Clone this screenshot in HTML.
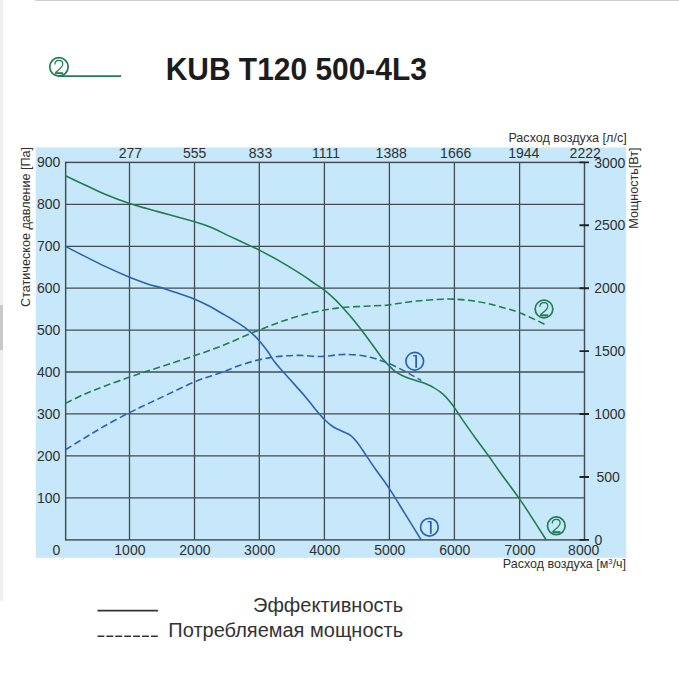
<!DOCTYPE html>
<html><head><meta charset="utf-8"><title>KUB T120 500-4L3</title>
<style>
html,body{margin:0;padding:0;background:#fff;}
body{width:679px;height:681px;overflow:hidden;position:relative;font-family:"Liberation Sans",sans-serif;}
svg{position:absolute;left:0;top:0;display:block;}
svg text{font-family:"Liberation Sans",sans-serif;}
.strip{position:absolute;left:0;top:0;width:3px;height:601px;background:#efefef;}
.thumb{position:absolute;left:0;top:305px;width:3px;height:45px;background:#c9c9c9;}
.topline{position:absolute;left:35px;top:0;width:644px;height:1px;background:#cfcfcf;}
</style></head><body>
<div class="strip"></div><div class="thumb"></div><div class="topline"></div>
<svg width="679" height="681" viewBox="0 0 679 681">
<rect x="35.8" y="147.4" width="590.4" height="410.4" fill="#c7e8fa"/>
<path d="M129.50 162.40 V539.90 M194.50 162.40 V539.90 M259.30 162.40 V539.90 M324.40 162.40 V539.90 M389.40 162.40 V539.90 M454.40 162.40 V539.90 M519.60 162.40 V539.90 M65.65 204.40 H584.50 M65.65 246.40 H584.50 M65.65 288.20 H584.50 M65.65 330.10 H584.50 M65.65 372.00 H584.50 M65.65 413.90 H584.50 M65.65 455.80 H584.50 M65.65 497.85 H584.50" stroke="#464a51" stroke-width="1.3" fill="none"/>
<rect x="65.65" y="162.40" width="518.85" height="377.50" stroke="#464a51" stroke-width="1.45" fill="none"/>
<path d="M579.5 539.90 H589 M579.5 476.98 H589 M579.5 414.07 H589 M579.5 351.15 H589 M579.5 288.23 H589 M579.5 225.32 H589 M579.5 162.40 H589" stroke="#222" stroke-width="1.9" fill="none"/>
<path d="M65.5 175.8 C68.8 177.3 78.4 181.9 85.0 185.0 C91.6 188.1 97.7 191.2 105.1 194.3 C112.5 197.4 122.5 201.2 129.6 203.6 C136.7 206.0 141.2 207.0 147.6 208.8 C153.9 210.6 159.8 212.1 167.7 214.3 C175.5 216.5 187.6 219.7 194.7 221.8 C201.8 223.9 204.3 224.7 210.2 227.1 C216.1 229.5 223.2 233.2 230.0 236.4 C236.8 239.6 246.4 244.1 251.3 246.4 C256.2 248.7 254.5 247.6 259.3 250.1 C264.1 252.6 272.9 257.2 280.1 261.4 C287.3 265.6 296.8 271.4 302.6 275.2 C308.4 278.9 311.4 281.4 315.1 283.9 C318.8 286.4 321.4 287.8 324.7 290.4 C328.0 293.0 332.2 296.7 335.2 299.6 C338.2 302.5 339.8 304.4 342.7 307.6 C345.6 310.8 349.6 315.2 352.7 318.9 C355.8 322.6 358.2 325.6 361.5 330.0 C364.8 334.4 369.1 340.2 372.6 345.0 C376.1 349.8 379.8 355.2 382.6 358.8 C385.4 362.4 387.5 364.2 389.6 366.3 C391.7 368.4 392.9 369.7 395.1 371.3 C397.3 372.9 399.7 374.4 402.6 375.8 C405.5 377.2 409.3 378.5 412.6 379.6 C415.9 380.7 419.2 381.4 422.6 382.6 C426.0 383.9 429.4 385.2 432.7 387.1 C436.0 389.0 439.8 391.3 442.7 393.8 C445.6 396.3 448.2 399.6 450.2 401.9 C452.1 404.2 452.3 404.6 454.4 407.6 C456.5 410.6 459.2 415.1 462.7 420.1 C466.2 425.1 470.8 431.7 475.2 437.7 C479.6 443.7 484.8 450.6 488.9 456.3 C493.0 462.1 494.9 465.1 500.0 472.2 C505.1 479.3 514.5 491.8 519.5 498.9 C524.5 506.0 525.5 507.7 530.0 514.6 C534.5 521.5 543.7 535.9 546.4 540.2" stroke="#1f7d4f" stroke-width="1.6" fill="none"/>
<path d="M65.5 246.4 C68.8 248.1 78.4 253.1 85.0 256.4 C91.6 259.7 97.7 262.9 105.1 266.4 C112.5 269.9 122.5 274.3 129.6 277.2 C136.7 280.1 141.7 281.9 147.6 283.9 C153.5 285.8 159.8 287.2 165.2 288.9 C170.6 290.6 175.3 292.3 180.2 294.0 C185.1 295.7 189.7 297.1 194.7 299.2 C199.7 301.3 206.0 304.3 210.2 306.5 C214.4 308.7 216.3 310.1 220.0 312.3 C223.7 314.5 228.3 316.9 232.5 319.5 C236.7 322.1 241.2 324.8 245.0 327.6 C248.8 330.4 252.7 334.1 255.1 336.3 C257.5 338.5 257.2 338.3 259.3 340.8 C261.4 343.3 265.0 347.7 267.6 351.3 C270.2 354.9 272.2 358.8 275.1 362.6 C278.0 366.4 281.8 370.1 285.1 373.9 C288.4 377.6 291.8 381.4 295.1 385.1 C298.4 388.9 301.8 392.4 305.1 396.4 C308.4 400.4 311.8 405.0 315.1 408.9 C318.4 412.8 321.8 416.8 324.7 419.7 C327.6 422.6 329.7 424.5 332.7 426.5 C335.7 428.5 339.8 430.1 342.7 431.5 C345.6 432.9 347.9 433.5 350.2 435.2 C352.5 436.9 354.4 439.0 356.5 441.5 C358.6 444.0 359.6 445.7 362.7 450.2 C365.8 454.7 370.5 462.1 375.0 468.5 C379.5 474.9 384.5 481.3 389.5 488.9 C394.5 496.5 399.8 505.3 405.1 513.9 C410.4 522.5 418.6 535.8 421.3 540.2" stroke="#2a63b2" stroke-width="1.6" fill="none"/>
<path d="M65.5 403.4 C68.8 401.8 78.4 396.8 85.0 393.9 C91.6 391.0 97.7 388.7 105.1 385.9 C112.5 383.1 122.9 379.5 129.6 377.1 C136.3 374.8 138.8 373.9 145.1 371.8 C151.4 369.7 159.4 367.3 167.7 364.6 C176.0 361.9 187.2 358.2 194.7 355.6 C202.2 353.1 206.8 351.5 212.7 349.3 C218.6 347.1 223.6 345.2 230.0 342.5 C236.4 339.8 246.4 335.2 251.3 333.1 C256.2 331.0 254.5 332.0 259.3 330.1 C264.1 328.2 272.9 324.5 280.1 322.0 C287.3 319.5 295.2 317.0 302.6 315.0 C310.0 313.0 318.0 311.2 324.7 310.0 C331.4 308.8 335.9 308.1 342.7 307.5 C349.4 306.9 357.9 306.6 365.2 306.2 C372.5 305.8 380.7 305.7 386.5 305.2 C392.3 304.7 394.4 303.9 400.0 303.2 C405.6 302.4 413.0 301.4 420.1 300.7 C427.2 300.0 436.9 299.4 442.6 299.2 C448.3 298.9 449.8 299.0 454.4 299.2 C459.0 299.4 464.6 299.8 470.1 300.5 C475.7 301.2 481.9 302.2 487.7 303.5 C493.5 304.8 499.9 306.7 505.2 308.2 C510.5 309.7 514.5 310.8 519.5 312.7 C524.5 314.6 530.7 317.6 535.2 319.7 C539.7 321.8 544.6 324.3 546.5 325.2" stroke="#1f7d4f" stroke-width="1.6" fill="none" stroke-dasharray="7 3.5"/>
<path d="M65.5 449.7 C68.8 447.7 78.4 441.7 85.0 437.7 C91.6 433.7 97.7 429.9 105.1 425.7 C112.5 421.5 122.5 416.2 129.6 412.6 C136.7 409.0 141.2 406.9 147.6 403.9 C153.9 400.9 159.8 398.1 167.7 394.4 C175.5 390.7 187.2 385.0 194.7 381.8 C202.2 378.6 207.2 377.3 212.7 375.4 C218.2 373.4 224.1 371.5 227.8 370.1 C231.5 368.7 230.9 368.6 235.0 367.1 C239.1 365.7 246.7 363.0 252.5 361.4 C258.4 359.8 264.7 358.5 270.1 357.6 C275.5 356.7 280.1 356.3 285.1 355.9 C290.1 355.5 295.1 355.3 300.1 355.4 C305.1 355.5 311.0 356.2 315.1 356.4 C319.2 356.6 321.4 356.6 324.7 356.4 C328.0 356.2 331.8 355.4 335.2 355.1 C338.6 354.8 341.4 354.4 345.2 354.4 C348.9 354.4 353.5 354.6 357.7 355.1 C361.9 355.6 366.5 356.3 370.2 357.2 C373.9 358.1 376.9 359.2 380.1 360.3 C383.3 361.4 385.9 362.2 389.6 363.8 C393.4 365.4 398.8 368.1 402.6 370.1 C406.4 372.1 409.5 373.9 412.6 375.6 C415.7 377.4 419.9 379.8 421.4 380.6" stroke="#2a63b2" stroke-width="1.6" fill="none" stroke-dasharray="7 3.5"/>
<g transform="translate(414.75 361.25)" fill="none" stroke="#2a63b2"><circle cx="0" cy="0" r="8.85" stroke-width="1.7"/><path d="M1.4 -6.1 V6.6" stroke-width="1.8"/><path d="M-1.8 -5.5 H1.4" stroke-width="1.3"/></g>
<g transform="translate(429.40 527.20)" fill="none" stroke="#2a63b2"><circle cx="0" cy="0" r="8.85" stroke-width="1.7"/><path d="M1.4 -6.1 V6.6" stroke-width="1.8"/><path d="M-1.8 -5.5 H1.4" stroke-width="1.3"/></g>
<g transform="translate(544.00 309.00)" fill="none" stroke="#1f7d4f"><circle cx="0" cy="0" r="8.85" stroke-width="1.7"/><path d="M-4.1 -2.3 C-4.1 -4.9 -2.4 -6.5 -0.1 -6.5 C2.3 -6.5 3.85 -4.9 3.85 -2.8 C3.85 -0.9 2.7 0.3 1.2 1.7 L-3.6 5.8" stroke-width="1.25"/><path d="M-3.9 6.3 H4.1" stroke-width="1.9"/></g>
<g transform="translate(556.30 525.80)" fill="none" stroke="#1f7d4f"><circle cx="0" cy="0" r="8.85" stroke-width="1.7"/><path d="M-4.1 -2.3 C-4.1 -4.9 -2.4 -6.5 -0.1 -6.5 C2.3 -6.5 3.85 -4.9 3.85 -2.8 C3.85 -0.9 2.7 0.3 1.2 1.7 L-3.6 5.8" stroke-width="1.25"/><path d="M-3.9 6.3 H4.1" stroke-width="1.9"/></g>
<path d="M58.5 76.15 H121.1" stroke="#1f7d4f" stroke-width="1.75"/>
<g transform="translate(58.94 66.87)" fill="none" stroke="#1f7d4f"><circle cx="0" cy="0" r="9.20" stroke-width="1.7"/><path d="M-4.1 -2.3 C-4.1 -4.9 -2.4 -6.5 -0.1 -6.5 C2.3 -6.5 3.85 -4.9 3.85 -2.8 C3.85 -0.9 2.7 0.3 1.2 1.7 L-3.6 5.8" stroke-width="1.25"/><path d="M-3.9 6.3 H4.1" stroke-width="1.9"/></g>
<text x="60.4" y="167.2" font-size="14" text-anchor="end" fill="#303030" >900</text>
<text x="60.4" y="209.2" font-size="14" text-anchor="end" fill="#303030" >800</text>
<text x="60.4" y="251.2" font-size="14" text-anchor="end" fill="#303030" >700</text>
<text x="60.4" y="293.0" font-size="14" text-anchor="end" fill="#303030" >600</text>
<text x="60.4" y="334.9" font-size="14" text-anchor="end" fill="#303030" >500</text>
<text x="60.4" y="376.8" font-size="14" text-anchor="end" fill="#303030" >400</text>
<text x="60.4" y="418.7" font-size="14" text-anchor="end" fill="#303030" >300</text>
<text x="60.4" y="460.6" font-size="14" text-anchor="end" fill="#303030" >200</text>
<text x="60.4" y="502.7" font-size="14" text-anchor="end" fill="#303030" >100</text>
<text x="56.5" y="554.6" font-size="14" text-anchor="middle" fill="#303030" >0</text>
<text x="129.9" y="554.6" font-size="14" text-anchor="middle" fill="#303030" >1000</text>
<text x="194.9" y="554.6" font-size="14" text-anchor="middle" fill="#303030" >2000</text>
<text x="259.7" y="554.6" font-size="14" text-anchor="middle" fill="#303030" >3000</text>
<text x="324.8" y="554.6" font-size="14" text-anchor="middle" fill="#303030" >4000</text>
<text x="389.8" y="554.6" font-size="14" text-anchor="middle" fill="#303030" >5000</text>
<text x="454.8" y="554.6" font-size="14" text-anchor="middle" fill="#303030" >6000</text>
<text x="520.0" y="554.6" font-size="14" text-anchor="middle" fill="#303030" >7000</text>
<text x="583.7" y="554.6" font-size="14" text-anchor="middle" fill="#303030" >8000</text>
<text x="130.4" y="158.0" font-size="14" text-anchor="middle" fill="#303030" >277</text>
<text x="194.7" y="158.0" font-size="14" text-anchor="middle" fill="#303030" >555</text>
<text x="260.5" y="158.0" font-size="14" text-anchor="middle" fill="#303030" >833</text>
<text x="326.0" y="158.0" font-size="14" text-anchor="middle" fill="#303030" >1111</text>
<text x="391.2" y="158.0" font-size="14" text-anchor="middle" fill="#303030" >1388</text>
<text x="455.7" y="158.0" font-size="14" text-anchor="middle" fill="#303030" >1666</text>
<text x="523.8" y="158.0" font-size="14" text-anchor="middle" fill="#303030" >1944</text>
<text x="585.2" y="158.0" font-size="14" text-anchor="middle" fill="#303030" >2222</text>
<text x="594.4" y="544.5" font-size="14" text-anchor="start" fill="#303030" >0</text>
<text x="619.9" y="481.9" font-size="14" text-anchor="end" fill="#303030" >500</text>
<text x="625.4" y="419.0" font-size="14" text-anchor="end" fill="#303030" >1000</text>
<text x="625.4" y="356.0" font-size="14" text-anchor="end" fill="#303030" >1500</text>
<text x="625.4" y="293.1" font-size="14" text-anchor="end" fill="#303030" >2000</text>
<text x="625.4" y="230.2" font-size="14" text-anchor="end" fill="#303030" >2500</text>
<text x="625.4" y="168.0" font-size="14" text-anchor="end" fill="#303030" >3000</text>
<text x="508.4" y="142.3" font-size="12.9" text-anchor="start" fill="#303030" textLength="118.3" lengthAdjust="spacingAndGlyphs">Расход воздуха [л/с]</text>
<text x="502.8" y="568.1" font-size="12.9" text-anchor="start" fill="#303030" textLength="123.3" lengthAdjust="spacingAndGlyphs">Расход воздуха [м<tspan font-size="8" dy="-4">3</tspan><tspan dy="4">/ч]</tspan></text>
<text transform="translate(30.4 306.9) rotate(-90)" font-size="12.9" fill="#303030" textLength="160" lengthAdjust="spacingAndGlyphs">Статическое давление [Па]</text>
<text transform="translate(638.2 228.7) rotate(-90)" font-size="12.9" fill="#303030" textLength="81.3" lengthAdjust="spacingAndGlyphs">Мощность[Вт]</text>
<text x="165.7" y="80.4" font-size="31.4" font-weight="bold" fill="#1c1c1c" textLength="261.2" lengthAdjust="spacingAndGlyphs">KUB T120 500-4L3</text>
<path d="M97.5 610.6 H158.1" stroke="#333" stroke-width="1.6"/>
<path d="M97.5 636.3 H158.1" stroke="#333" stroke-width="1.6" stroke-dasharray="6.9 2"/>
<text x="403.1" y="612.2" font-size="20" text-anchor="end" fill="#333" >Эффективность</text>
<text x="403.1" y="637.0" font-size="20" text-anchor="end" fill="#333" >Потребляемая мощность</text>
</svg>
</body></html>
